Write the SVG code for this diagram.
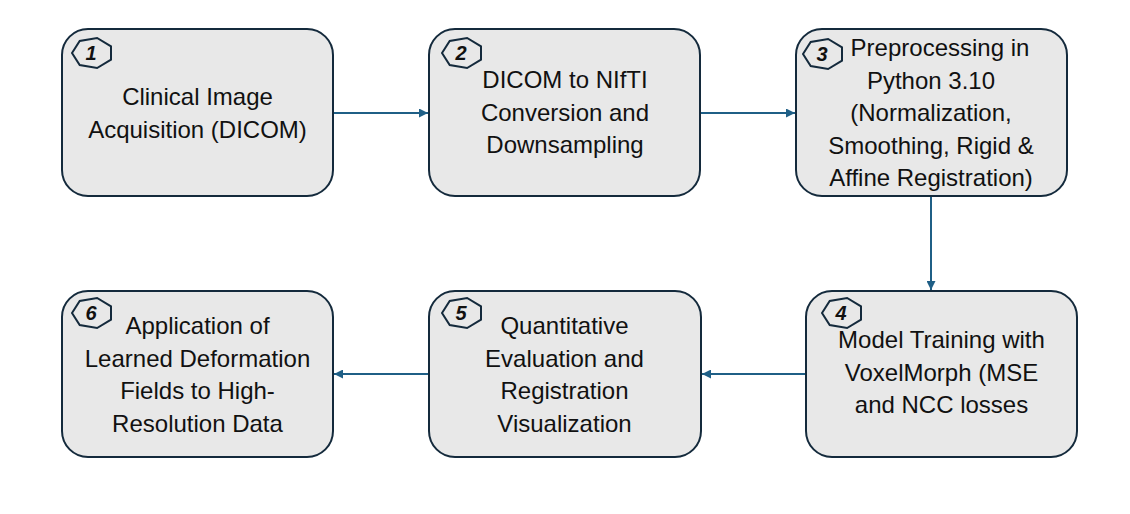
<svg xmlns="http://www.w3.org/2000/svg" width="1130" height="514" viewBox="0 0 1130 514">
<style>
.box{fill:#e8e8e8;stroke:#142a3c;stroke-width:2}
.hep{fill:none;stroke:#142a3c;stroke-width:2;stroke-linejoin:miter}
.num{font-family:"Liberation Sans",Arial,sans-serif;font-weight:bold;font-style:italic;font-size:20px;fill:#111;text-anchor:middle}
.lbl{font-family:"Liberation Sans",Arial,sans-serif;font-size:24px;fill:#111;text-anchor:middle}
.conn{stroke:#1f5f86;stroke-width:2;fill:none}
</style>
<defs>
<marker id="ah" markerUnits="userSpaceOnUse" markerWidth="9" markerHeight="9" viewBox="0 0 10 10" refX="10" refY="5" orient="auto">
<path d="M0,0 L10,5 L0,10 z" fill="#1f5f86"/>
</marker>
<polygon id="hp" points="-19.5,0 -11.8,-12 5.6,-15 19.5,-6.7 19.5,6.7 5.6,15 -11.8,12"/>
</defs>
<rect width="1130" height="514" fill="#ffffff"/>
<g id="connectors">
<line class="conn" x1="333" y1="113" x2="428" y2="113" marker-end="url(#ah)"/>
<line class="conn" x1="700" y1="113" x2="795" y2="113" marker-end="url(#ah)"/>
<line class="conn" x1="931" y1="196" x2="931" y2="290" marker-end="url(#ah)"/>
<line class="conn" x1="806" y1="374" x2="702" y2="374" marker-end="url(#ah)"/>
<line class="conn" x1="428" y1="374" x2="334" y2="374" marker-end="url(#ah)"/>
</g>
<g id="node1">
<rect class="box" x="62" y="29" width="271" height="167" rx="26"/>
<use href="#hp" class="hep" x="91.5" y="53"/>
<text class="num" x="91" y="60">1</text>
<text class="lbl" x="197.5" y="105">Clinical Image</text>
<text class="lbl" x="197.5" y="137.5">Acquisition (DICOM)</text>
</g>
<g id="node2">
<rect class="box" x="429" y="29" width="271" height="167" rx="26"/>
<use href="#hp" class="hep" x="461.5" y="53"/>
<text class="num" x="461" y="60">2</text>
<text class="lbl" x="565" y="88">DICOM to NIfTI</text>
<text class="lbl" x="565" y="120.5">Conversion and</text>
<text class="lbl" x="565" y="153">Downsampling</text>
</g>
<g id="node3">
<rect class="box" x="796" y="29" width="271" height="167" rx="26"/>
<use href="#hp" class="hep" x="822.5" y="54"/>
<text class="num" x="822" y="61">3</text>
<text class="lbl" x="940" y="56">Preprocessing in</text>
<text class="lbl" x="931" y="88.5">Python 3.10</text>
<text class="lbl" x="931" y="121">(Normalization,</text>
<text class="lbl" x="931" y="153.5">Smoothing, Rigid &amp;</text>
<text class="lbl" x="931" y="186">Affine Registration)</text>
</g>
<g id="node4">
<rect class="box" x="806" y="291" width="271" height="166" rx="26"/>
<use href="#hp" class="hep" x="841.5" y="313"/>
<text class="num" x="841" y="320">4</text>
<text class="lbl" x="941.5" y="348">Model Training with</text>
<text class="lbl" x="941.5" y="380.5">VoxelMorph (MSE</text>
<text class="lbl" x="941.5" y="413">and NCC losses</text>
</g>
<g id="node5">
<rect class="box" x="429" y="291" width="272" height="166" rx="26"/>
<use href="#hp" class="hep" x="461.5" y="313"/>
<text class="num" x="461" y="320">5</text>
<text class="lbl" x="564.5" y="334">Quantitative</text>
<text class="lbl" x="564.5" y="366.5">Evaluation and</text>
<text class="lbl" x="564.5" y="399">Registration</text>
<text class="lbl" x="564.5" y="431.5">Visualization</text>
</g>
<g id="node6">
<rect class="box" x="62" y="291" width="271" height="166" rx="26"/>
<use href="#hp" class="hep" x="91.5" y="313"/>
<text class="num" x="91" y="320">6</text>
<text class="lbl" x="197.5" y="334">Application of</text>
<text class="lbl" x="197.5" y="366.5">Learned Deformation</text>
<text class="lbl" x="197.5" y="399">Fields to High-</text>
<text class="lbl" x="197.5" y="431.5">Resolution Data</text>
</g>
</svg>
